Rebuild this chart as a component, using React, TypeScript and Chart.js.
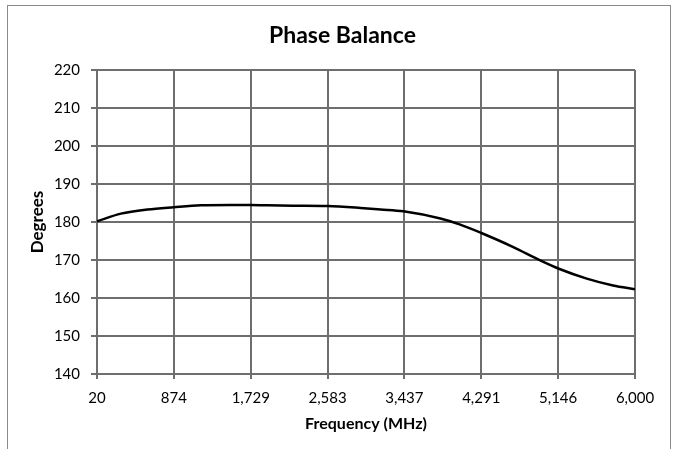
import React, { useEffect, useRef } from "react";
import { Chart, registerables } from "chart.js";

Chart.register(...registerables);

const titleText = "Phase Balance";
const xAxisTitle = "Frequency (MHz)";
const yAxisTitle = "Degrees";

const frequencies = [20, 286, 582, 874, 1174, 1500, 1840, 2200, 2583, 2949, 3171, 3426, 3837, 4058, 4292, 4647, 4946, 5154, 5464, 5756, 6000];
const phaseDegrees = [180.2, 182.2, 183.3, 183.9, 184.4, 184.5, 184.4, 184.3, 184.2, 183.7, 183.3, 182.8, 180.9, 179.3, 177.1, 173.4, 169.9, 167.7, 165.1, 163.3, 162.3];

const xTickValues = [20, 874, 1729, 2583, 3437, 4291, 5146, 6000];
const yMin = 140;
const yMax = 220;
const yStep = 10;

const FONT = "Lato, 'Open Sans', sans-serif";
const GRID = "#6e6e6e";

const framePlugin = {
  id: "frame",
  beforeDraw(chart: any) {
    const ctx = chart.ctx;
    ctx.save();
    ctx.fillStyle = "#ffffff";
    ctx.fillRect(0, 0, chart.width, chart.height);
    ctx.strokeStyle = "#8a8a8a";
    ctx.lineWidth = 1;
    ctx.strokeRect(7.5, 5.5, 663, 480);
    ctx.restore();
  },
  afterDraw(chart: any) {
    const ctx = chart.ctx;
    ctx.save();
    ctx.fillStyle = "#000000";
    ctx.font = `bold 23px ${FONT}`;
    ctx.textAlign = "center";
    ctx.textBaseline = "middle";
    ctx.fillText(titleText, 342.5, 35.5);
    ctx.restore();
  },
};

export default function App() {
  const ref = useRef<HTMLCanvasElement | null>(null);

  useEffect(() => {
    if (!ref.current) return;
    const chart = new Chart(ref.current, {
      type: "line",
      data: {
        datasets: [
          {
            data: frequencies.map((f, i) => ({ x: f, y: phaseDegrees[i] })),
            borderColor: "#000000",
            borderWidth: 2.5,
            pointRadius: 0,
            fill: false,
            cubicInterpolationMode: "monotone",
          },
        ],
      },
      options: {
        responsive: false,
        animation: false,
        layout: { padding: { left: 0, right: 39, top: 70, bottom: 0 } },
        plugins: {
          legend: { display: false },
          tooltip: { enabled: false },
          title: { display: false },
        },
        scales: {
          x: {
            type: "linear",
            min: 20,
            max: 6000,
            afterBuildTicks: (scale: any) => {
              scale.ticks = xTickValues.map((v) => ({ value: v }));
            },
            afterFit: (scale: any) => {
              scale.height = 75;
            },
            ticks: {
              color: "#000000",
              font: { family: FONT, size: 15 },
              padding: 10,
              maxRotation: 0,
              autoSkip: false,
              callback: (v: any) => Number(v).toLocaleString("en-US"),
            },
            grid: { color: GRID, lineWidth: 2, tickLength: 5, drawTicks: true },
            border: { color: GRID, width: 2 },
            title: {
              display: true,
              text: xAxisTitle,
              color: "#000000",
              font: { family: FONT, size: 16, weight: "bold" },
              padding: { top: 0, bottom: 15.4 },
            },
          },
          y: {
            min: yMin,
            max: yMax,
            afterFit: (scale: any) => {
              scale.width = 97;
            },
            ticks: {
              stepSize: yStep,
              color: "#000000",
              font: { family: FONT, size: 15 },
              padding: 11,
            },
            grid: { color: GRID, lineWidth: 2, tickLength: 6, drawTicks: true },
            border: { color: GRID, width: 2 },
            title: {
              display: true,
              text: yAxisTitle,
              color: "#000000",
              font: { family: FONT, size: 17, weight: "bold" },
              padding: { top: 27.8, bottom: 0 },
            },
          },
        },
      },
      plugins: [framePlugin],
    } as any);
    return () => chart.destroy();
  }, []);

  return (
    <div style={{ position: "fixed", left: 0, top: 0, width: 674, height: 449 }}>
      <canvas ref={ref} width={674} height={449} style={{ display: "block", width: 674, height: 449 }} />
    </div>
  );
}
